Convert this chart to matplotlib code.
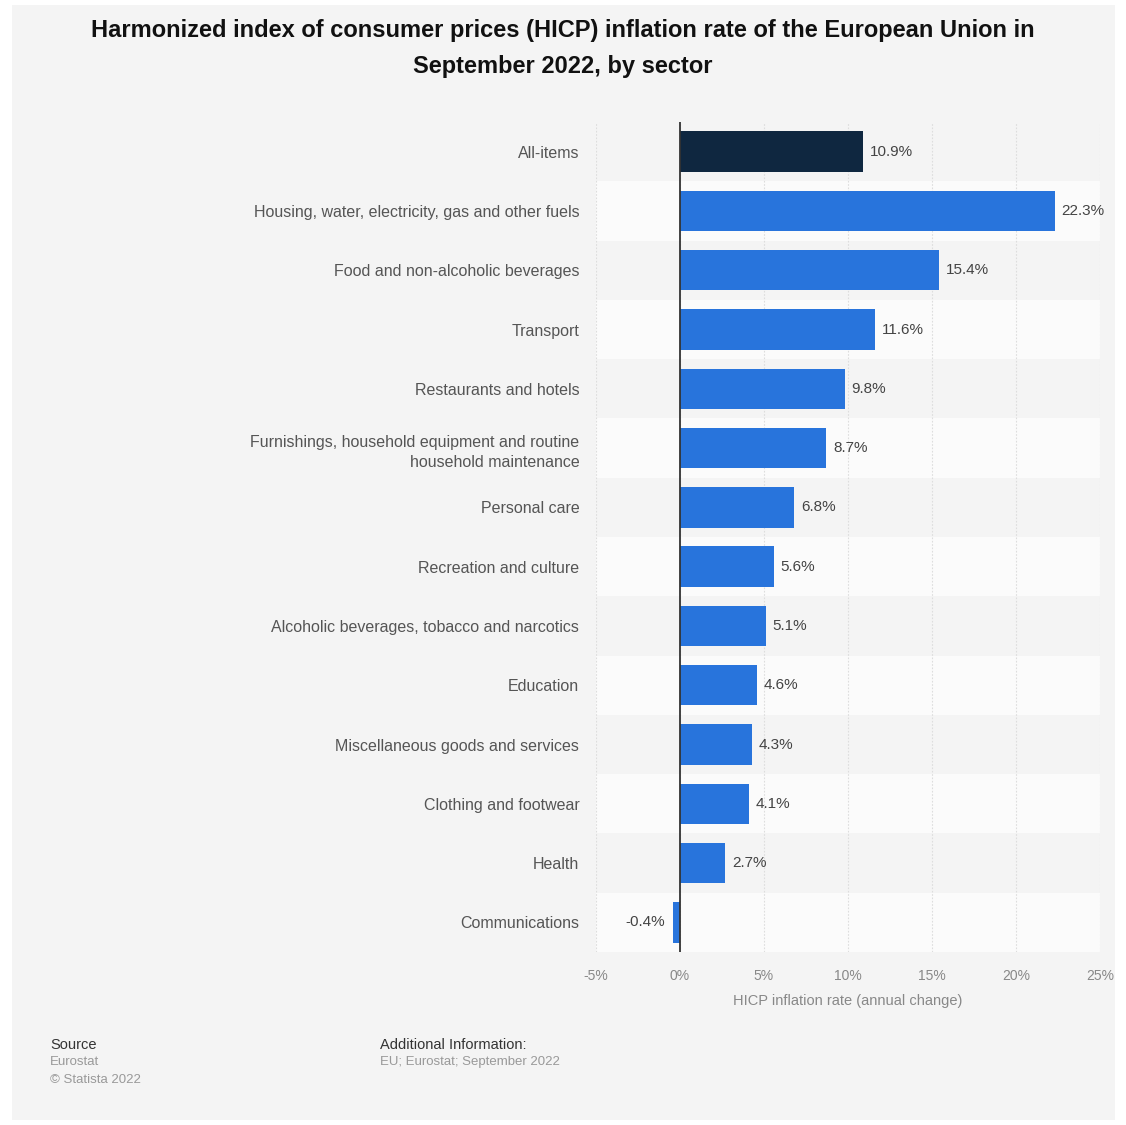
import numpy as np
import matplotlib.pyplot as plt
from matplotlib.patches import Rectangle

plt.rcParams["font.family"] = ["Liberation Sans", "DejaVu Sans"]

categories = [
    "All-items",
    "Housing, water, electricity, gas and other fuels",
    "Food and non-alcoholic beverages",
    "Transport",
    "Restaurants and hotels",
    "Furnishings, household equipment and routine\nhousehold maintenance",
    "Personal care",
    "Recreation and culture",
    "Alcoholic beverages, tobacco and narcotics",
    "Education",
    "Miscellaneous goods and services",
    "Clothing and footwear",
    "Health",
    "Communications",
]
values = [10.9, 22.3, 15.4, 11.6, 9.8, 8.7, 6.8, 5.6, 5.1, 4.6, 4.3, 4.1, 2.7, -0.4]
xticks = [-5, 0, 5, 10, 15, 20, 25]

fig = plt.figure(figsize=(11.26, 11.25), dpi=100, facecolor="white")
bg = Rectangle((12 / 1126, 1 - 1120 / 1125), 1103 / 1126, 1115 / 1125,
               transform=fig.transFigure, facecolor="#f4f4f4",
               edgecolor="none", zorder=-10)
fig.patches.append(bg)

ax = fig.add_axes([596 / 1126, 1 - 952 / 1125, 504 / 1126, 830 / 1125])
ax.set_facecolor("none")
ax.set_zorder(1)

n = len(categories)
y = np.arange(n)

# alternating row bands
for i in range(n):
    if i % 2 == 1:
        ax.axhspan(i - 0.5, i + 0.5, color="#fbfbfb", zorder=0, lw=0)

colors = ["#0f2740"] + ["#2874dc"] * (n - 1)
ax.barh(y, values, height=0.68, color=colors, zorder=3)

for yi, v in zip(y, values):
    if v >= 0:
        ax.text(v + 0.4, yi, f"{v}%", va="center", ha="left", fontsize=11, color="#444444", zorder=4)
    else:
        ax.text(v - 0.5, yi, f"{v}%", va="center", ha="right", fontsize=11, color="#444444", zorder=4)

ax.axvline(0, color="#333333", lw=1.3, zorder=5)
for t in xticks:
    ax.axvline(t, color="#dddddd", lw=0.8, ls=(0, (1.5, 1.5)), zorder=1)

ax.set_xlim(-5, 25)
ax.set_ylim(n - 0.5, -0.5)
ax.set_xticks(xticks)
ax.set_xticklabels([f"{t}%" for t in xticks], fontsize=10, color="#888888")
ax.set_yticks(y)
ax.set_yticklabels(categories, fontsize=11.5, color="#555555", linespacing=1.45)
ax.tick_params(axis="both", length=0)
ax.tick_params(axis="y", pad=12)
ax.tick_params(axis="x", pad=12)
for s in ax.spines.values():
    s.set_visible(False)
ax.set_xlabel("HICP inflation rate (annual change)", fontsize=10.5, color="#888888", labelpad=8)

fig.text(0.5, 1 - 31 / 1125,
         "Harmonized index of consumer prices (HICP) inflation rate of the European Union in",
         ha="center", va="center", fontsize=17, fontweight="bold", color="#111111")
fig.text(0.5, 1 - 67 / 1125, "September 2022, by sector",
         ha="center", va="center", fontsize=17, fontweight="bold", color="#111111")

fig.text(50 / 1126, 1 - 1045 / 1125, "Source", fontsize=10.5, color="#333333", va="center")
fig.text(50 / 1126, 1 - 1062 / 1125, "Eurostat", fontsize=9.5, color="#999999", va="center")
fig.text(50 / 1126, 1 - 1080 / 1125, "\u00a9 Statista 2022", fontsize=9.5, color="#999999", va="center")
fig.text(380 / 1126, 1 - 1045 / 1125, "Additional Information:", fontsize=10.5, color="#333333", va="center")
fig.text(380 / 1126, 1 - 1062 / 1125, "EU; Eurostat; September 2022", fontsize=9.5, color="#999999", va="center")

fig.savefig("out.png", dpi=100, facecolor=fig.get_facecolor())
